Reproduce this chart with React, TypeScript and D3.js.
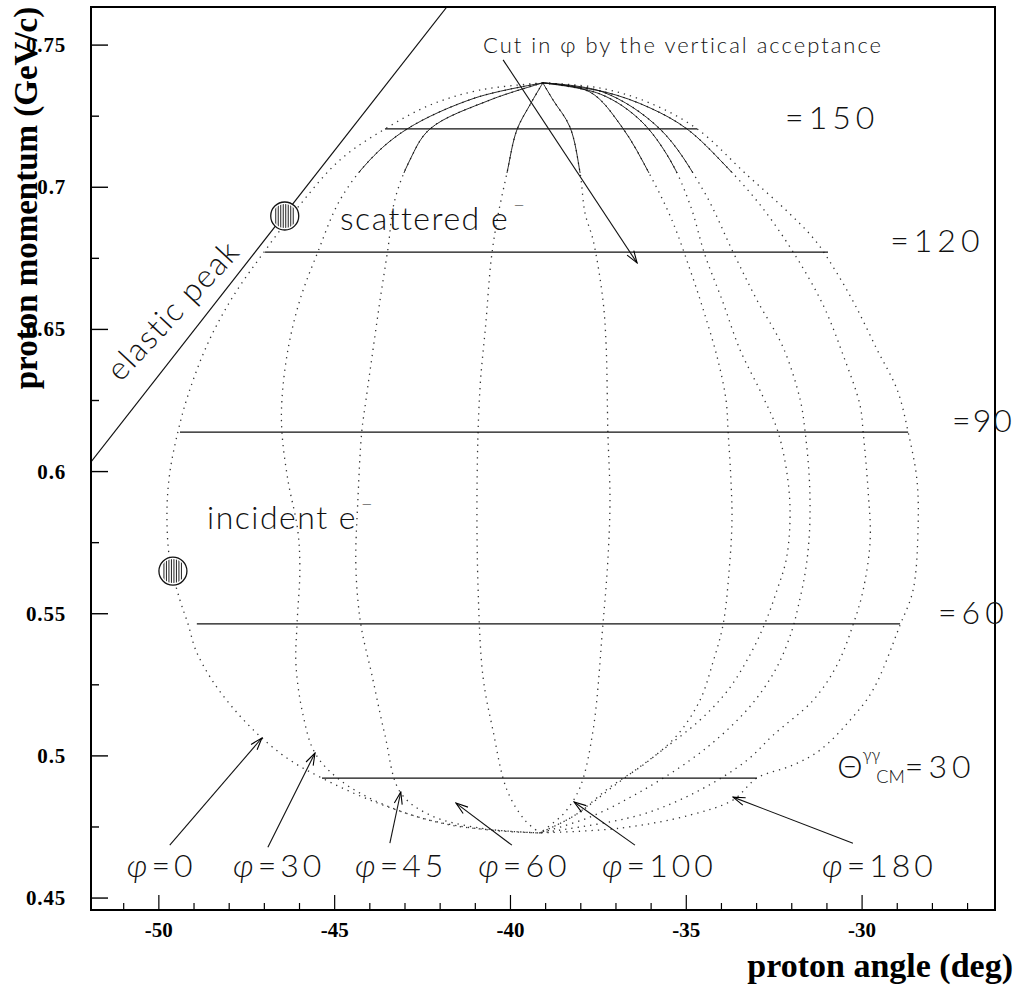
import React from 'react';
import * as d3 from 'd3';

type Pt = [number, number];

const W = 1019;
const H = 996;
const frame = { left: 91, right: 995, top: 7, bottom: 910 };

// axes (proton angle in deg, proton momentum in GeV/c)
const angleDomain: Pt = [-51.93, -26.22];
const momentumDomain: Pt = [0.4458, 0.7634];
const xMajorTicks = [-50, -45, -40, -35, -30];
const xMinorTicks = [-51, -49, -48, -47, -46, -44, -43, -42, -41, -39, -38, -37, -36, -34, -33, -32, -31, -29, -28, -27];
const yMajorTicks = [0.45, 0.5, 0.55, 0.6, 0.65, 0.7, 0.75];
const yMinorTicks = [0.475, 0.525, 0.575, 0.625, 0.675, 0.725];

// constant Theta_cm lines
const thetaCM = ['150', '120', '90', '60', '30'];
const thetaMomentum = [0.7205, 0.6772, 0.6139, 0.5464, 0.4922];
const thetaAngleMin = [-43.57, -46.98, -49.4, -48.92, -45.36];
const thetaAngleMax = [-34.69, -30.97, -28.69, -28.92, -32.99];
const thetaLabelAngle = [-32.19, -29.2, -27.44, -27.84, -30.71];

// constant phi curves, from the top point to the bottom point
const phi0: Pt[] = [
  [-39.08, 0.7367], [-40.87, 0.7342], [-42.29, 0.7289], [-43.57, 0.7205], [-44.85, 0.7096], [-45.99, 0.6938],
  [-47.01, 0.6772], [-47.92, 0.661], [-48.63, 0.6445], [-49.17, 0.6269], [-49.46, 0.6139], [-49.69, 0.5995],
  [-49.77, 0.5854], [-49.69, 0.5689], [-49.4, 0.5548], [-49.17, 0.5464], [-48.95, 0.5372], [-48.49, 0.5267],
  [-47.84, 0.5161], [-47.07, 0.5063], [-46.27, 0.4985], [-45.36, 0.4922], [-44.0, 0.4845], [-42.29, 0.4774],
  [-40.58, 0.4739], [-39.16, 0.4729],
];
const phi30: Pt[] = [
  [-39.08, 0.7367], [-41.01, 0.7314], [-42.94, 0.7205], [-44.0, 0.7096], [-44.85, 0.6955], [-45.48, 0.6772],
  [-45.99, 0.6603], [-46.33, 0.6428], [-46.5, 0.6252], [-46.5, 0.6139], [-46.33, 0.597], [-46.05, 0.5794],
  [-45.99, 0.5654], [-46.07, 0.5464], [-46.1, 0.532], [-45.9, 0.5144], [-45.56, 0.501], [-44.85, 0.4915],
  [-43.57, 0.4827], [-41.72, 0.4757], [-39.16, 0.4729],
];
const phi45: Pt[] = [
  [-39.08, 0.7367], [-40.58, 0.7307], [-42.29, 0.7205], [-42.86, 0.7096], [-43.29, 0.6955], [-43.49, 0.6779],
  [-43.71, 0.6603], [-43.91, 0.6428], [-44.11, 0.6252], [-44.23, 0.6139], [-44.34, 0.59], [-44.4, 0.5689],
  [-44.34, 0.5548], [-44.23, 0.5443], [-43.94, 0.5284], [-43.57, 0.5073], [-43.14, 0.4873], [-42.29, 0.4792],
  [-40.87, 0.4746], [-39.16, 0.4729],
];
const phi60: Pt[] = [
  [-39.08, 0.7367], [-39.45, 0.7289], [-39.82, 0.7201], [-40.1, 0.705], [-40.38, 0.6885], [-40.55, 0.6744],
  [-40.7, 0.6523], [-40.87, 0.6287], [-40.95, 0.596], [-40.92, 0.5583], [-40.78, 0.5277], [-40.5, 0.5091],
  [-40.1, 0.488], [-39.59, 0.4774], [-39.16, 0.4729],
];
const phi100: Pt[] = [
  [-39.08, 0.7367], [-38.79, 0.7307], [-38.31, 0.7212], [-38.02, 0.705], [-37.88, 0.6909], [-37.65, 0.6814],
  [-37.37, 0.6603], [-37.28, 0.6445], [-37.23, 0.6139], [-37.17, 0.59], [-37.23, 0.5689], [-37.37, 0.5464],
  [-37.65, 0.5091], [-38.02, 0.489], [-38.45, 0.4802], [-38.79, 0.4764], [-39.16, 0.4729],
];
const phiRight1: Pt[] = [
  [-39.08, 0.7367], [-37.74, 0.7335], [-36.83, 0.7212], [-36.03, 0.7043], [-35.41, 0.6885], [-34.89, 0.6709],
  [-34.47, 0.6551], [-34.1, 0.6392], [-33.87, 0.6252], [-33.81, 0.6139], [-33.73, 0.597], [-33.7, 0.583],
  [-33.78, 0.5654], [-33.95, 0.5464], [-34.24, 0.533], [-34.61, 0.5196], [-35.26, 0.5073], [-36.12, 0.4978],
  [-37.17, 0.489], [-38.16, 0.4792], [-39.16, 0.4729],
];
const phiRight2: Pt[] = [
  [-39.08, 0.7367], [-37.45, 0.7328], [-36.32, 0.7237], [-35.46, 0.7096], [-34.89, 0.6938], [-34.47, 0.6762],
  [-33.98, 0.6603], [-33.47, 0.6428], [-32.84, 0.6269], [-32.39, 0.6139], [-32.11, 0.597], [-32.05, 0.583],
  [-32.16, 0.5689], [-32.42, 0.5583], [-32.76, 0.5467], [-33.19, 0.5355], [-33.81, 0.5232], [-34.61, 0.5126],
  [-35.75, 0.5014], [-37.03, 0.4897], [-38.16, 0.4792], [-39.16, 0.4729],
];
const phiRight3: Pt[] = [
  [-39.08, 0.7367], [-37.37, 0.7335], [-35.75, 0.7205], [-34.52, 0.699], [-33.67, 0.6772], [-32.99, 0.6603],
  [-32.25, 0.6438], [-31.76, 0.6252], [-31.62, 0.6139], [-31.51, 0.5995], [-31.48, 0.5875], [-31.51, 0.5759],
  [-31.62, 0.5643], [-31.82, 0.5524], [-31.99, 0.5443], [-32.39, 0.532], [-33.04, 0.5196], [-33.9, 0.5084],
  [-34.89, 0.4985], [-36.32, 0.4873], [-37.74, 0.4785], [-39.16, 0.4729],
];
const phiRight4: Pt[] = [
  [-39.08, 0.7367], [-37.31, 0.7335], [-36.03, 0.7279], [-34.98, 0.7205], [-33.9, 0.7078], [-32.9, 0.6938],
  [-31.96, 0.6772], [-31.11, 0.6586], [-30.54, 0.641], [-30.06, 0.6234], [-29.97, 0.6139], [-29.83, 0.5935],
  [-29.77, 0.5759], [-29.97, 0.5583], [-30.26, 0.546], [-30.71, 0.532], [-31.39, 0.5196], [-32.53, 0.5073],
  [-33.27, 0.4985], [-34.61, 0.488], [-36.32, 0.4792], [-39.16, 0.4729],
];
const phi180: Pt[] = [
  [-39.08, 0.7367], [-37.45, 0.7349], [-36.03, 0.7296], [-34.69, 0.7205], [-33.27, 0.7043], [-32.11, 0.6913],
  [-31.34, 0.6814], [-30.77, 0.6709], [-30.2, 0.6586], [-29.57, 0.6428], [-29.0, 0.6287], [-28.69, 0.6139],
  [-28.44, 0.597], [-28.41, 0.5794], [-28.55, 0.5583], [-28.92, 0.546], [-29.69, 0.5232], [-30.34, 0.5126],
  [-31.19, 0.5021], [-31.96, 0.4968], [-32.99, 0.4922], [-33.67, 0.4845], [-34.89, 0.4792], [-36.88, 0.4746],
  [-39.16, 0.4729],
];
const outerCurves = [phi0, phi180];
const innerCurves = [phi30, phi45, phi60, phi100, phiRight1, phiRight2, phiRight3, phiRight4];
const denseAbove = 0.705; // near the top the points pile up into a solid line

// elastic peak and the two electron markers
const elasticPeak: Pt[] = [[-51.93, 0.6034], [-41.81, 0.7634]];
const markers: Pt[] = [[-46.42, 0.6899], [-49.6, 0.565]];

// phi arrows
const phiLabels = ['0', '30', '45', '60', '100', '180'];
const phiLabelAngle = [-50.91, -47.89, -44.42, -40.92, -37.4, -31.14];
const phiLabelMomentum = 0.4574;
const phiArrowFrom: Pt[] = [[-49.69, 0.4686], [-46.9, 0.4679], [-43.43, 0.4693], [-39.96, 0.4686], [-36.46, 0.4686], [-30.26, 0.4693]];
const phiArrowTo: Pt[] = [[-47.07, 0.5063], [-45.56, 0.501], [-43.12, 0.4873], [-41.55, 0.4834], [-38.19, 0.4838], [-33.67, 0.4855]];
const cutArrow: Pt[] = [[-40.21, 0.7448], [-36.4, 0.6734]];
const cutText: Pt = [-40.78, 0.7472];
const scatteredText: Pt = [-44.85, 0.685];
const incidentText: Pt = [-48.63, 0.5798];
const elasticText: Pt = [-49.6, 0.6568];

const serif = '"Liberation Serif", "Times New Roman", serif';
const thin = 'Lato, "Open Sans", "DejaVu Sans", sans-serif';

export default function App() {
  const x = d3.scaleLinear().domain(angleDomain).range([frame.left, frame.right]);
  const y = d3.scaleLinear().domain(momentumDomain).range([frame.bottom, frame.top]);
  const line = d3.line<Pt>().x(d => x(d[0])).y(d => y(d[1])).curve(d3.curveCatmullRom.alpha(0.5));

  return (
    <svg width={W} height={H} style={{ position: 'absolute', left: 0, top: 0, background: '#fff' }}>
      <defs>
        <clipPath id="plot">
          <rect x={frame.left} y={frame.top} width={frame.right - frame.left} height={frame.bottom - frame.top} />
        </clipPath>
        <clipPath id="dense">
          <rect x={frame.left} y={frame.top} width={frame.right - frame.left} height={y(denseAbove) - frame.top} />
        </clipPath>
        <clipPath id="disc">
          <circle r={12} />
        </clipPath>
        <marker id="arrow" viewBox="0 0 14 10" refX={13} refY={5} markerWidth={14} markerHeight={10}
          markerUnits="userSpaceOnUse" orient="auto">
          <path d="M1,1 L13,5 L1,9" fill="none" stroke="#000" strokeWidth={1.1} />
        </marker>
      </defs>

      <g clipPath="url(#plot)">
        {/* phi curves, dotted */}
        {[...outerCurves, ...innerCurves].map((c, i) => (
          <path key={'c' + i} d={line(c) || ''} fill="none" stroke="#333" strokeWidth={1.3} strokeDasharray="1.3 5" />
        ))}
        <g clipPath="url(#dense)">
          {innerCurves.map((c, i) => (
            <path key={'d' + i} d={line(c) || ''} fill="none" stroke="#111" strokeWidth={0.9} />
          ))}
        </g>

        {/* constant theta_cm lines */}
        {thetaCM.map((t, i) => (
          <line key={t} x1={x(thetaAngleMin[i])} x2={x(thetaAngleMax[i])} y1={y(thetaMomentum[i])} y2={y(thetaMomentum[i])}
            stroke="#111" strokeWidth={1.3} />
        ))}

        {/* elastic peak */}
        <line x1={x(elasticPeak[0][0])} y1={y(elasticPeak[0][1])} x2={x(elasticPeak[1][0])} y2={y(elasticPeak[1][1])}
          stroke="#111" strokeWidth={1.2} />
      </g>

      {markers.map((m, i) => (
        <g key={'m' + i} transform={`translate(${x(m[0])},${y(m[1])})`}>
          <circle r={14} fill="#fff" stroke="#111" strokeWidth={1.3} />
          <g clipPath="url(#disc)">
            {[-9, -6.5, -4, -1.5, 1, 3.5, 6, 8.5].map(dx => (
              <line key={dx} x1={dx} x2={dx} y1={-12} y2={12} stroke="#222" strokeWidth={1} />
            ))}
          </g>
        </g>
      ))}

      {/* frame and ticks */}
      <rect x={frame.left} y={frame.top} width={frame.right - frame.left} height={frame.bottom - frame.top}
        fill="none" stroke="#000" strokeWidth={2} />
      {xMajorTicks.map(t => (
        <line key={'xM' + t} x1={x(t)} x2={x(t)} y1={frame.bottom} y2={frame.bottom - 15} stroke="#000" strokeWidth={1.2} />
      ))}
      {xMinorTicks.map(t => (
        <line key={'xm' + t} x1={x(t)} x2={x(t)} y1={frame.bottom} y2={frame.bottom - 7} stroke="#000" strokeWidth={1.2} />
      ))}
      {yMajorTicks.map(t => (
        <line key={'yM' + t} x1={frame.left} x2={frame.left + 17} y1={y(t)} y2={y(t)} stroke="#000" strokeWidth={1.4} />
      ))}
      {yMinorTicks.map(t => (
        <line key={'ym' + t} x1={frame.left} x2={frame.left + 8} y1={y(t)} y2={y(t)} stroke="#000" strokeWidth={1.4} />
      ))}
      {yMajorTicks.map(t => (
        <text key={'yl' + t} x={66} y={y(t) + 7} textAnchor="end" fontFamily={serif} fontWeight="bold" fontSize={21}
          letterSpacing={0.8}>{String(+t.toFixed(2))}</text>
      ))}
      {xMajorTicks.map(t => (
        <text key={'xl' + t} x={x(t)} y={937} textAnchor="middle" fontFamily={serif} fontWeight="bold" fontSize={21}>
          {String(t)}</text>
      ))}
      <text transform="translate(37,198) rotate(-90)" textAnchor="middle" fontFamily={serif} fontWeight="bold" fontSize={33}>
        proton momentum (GeV/c)</text>
      <text x={1013} y={977} textAnchor="end" fontFamily={serif} fontWeight="bold" fontSize={34}>proton angle (deg)</text>

      {/* annotations */}
      <g fontFamily={thin} fontWeight={300} fill="#111">
        {thetaCM.map((t, i) => (
          i < 4 ? (
            <text key={'tl' + t} x={x(thetaLabelAngle[i])} y={y(thetaMomentum[i])} fontSize={32}
              letterSpacing={t === '90' ? 2 : 5}>={t}</text>
          ) : (
            <text key={'tl' + t} x={x(thetaLabelAngle[i])} y={y(thetaMomentum[i])} fontSize={32}>
              Θ<tspan dy={-17} fontSize={17}>γγ</tspan>
              <tspan dx={-4} dy={22} fontSize={18}>CM</tspan>
              <tspan dy={-5} letterSpacing={5}>={t}</tspan>
            </text>
          )
        ))}

        <text x={x(cutText[0])} y={y(cutText[1])} fontSize={22} letterSpacing={2}>Cut in φ by the vertical acceptance</text>
        <line x1={x(cutArrow[0][0])} y1={y(cutArrow[0][1])} x2={x(cutArrow[1][0])} y2={y(cutArrow[1][1])}
          stroke="#111" strokeWidth={1.1} markerEnd="url(#arrow)" />

        <text x={x(scatteredText[0])} y={y(scatteredText[1])} fontSize={32} letterSpacing={1.5}>
          scattered e<tspan dx={4} dy={-18} fontSize={20}>−</tspan></text>
        <text x={x(incidentText[0])} y={y(incidentText[1])} fontSize={32} letterSpacing={1.5}>
          incident e<tspan dx={4} dy={-18} fontSize={20}>−</tspan></text>
        <text transform={`translate(${x(elasticText[0])},${y(elasticText[1])}) rotate(-47)`} textAnchor="middle" dy="0.35em"
          fontSize={32} letterSpacing={1.5}>elastic peak</text>

        {phiLabels.map((p, i) => (
          <g key={'p' + p}>
            <line x1={x(phiArrowFrom[i][0])} y1={y(phiArrowFrom[i][1])} x2={x(phiArrowTo[i][0])} y2={y(phiArrowTo[i][1])}
              stroke="#111" strokeWidth={1.1} markerEnd="url(#arrow)" />
            <text x={x(phiLabelAngle[i])} y={y(phiLabelMomentum)} fontSize={32} letterSpacing={4}>
              <tspan fontStyle="italic">φ</tspan>={p}</text>
          </g>
        ))}
      </g>
    </svg>
  );
}
